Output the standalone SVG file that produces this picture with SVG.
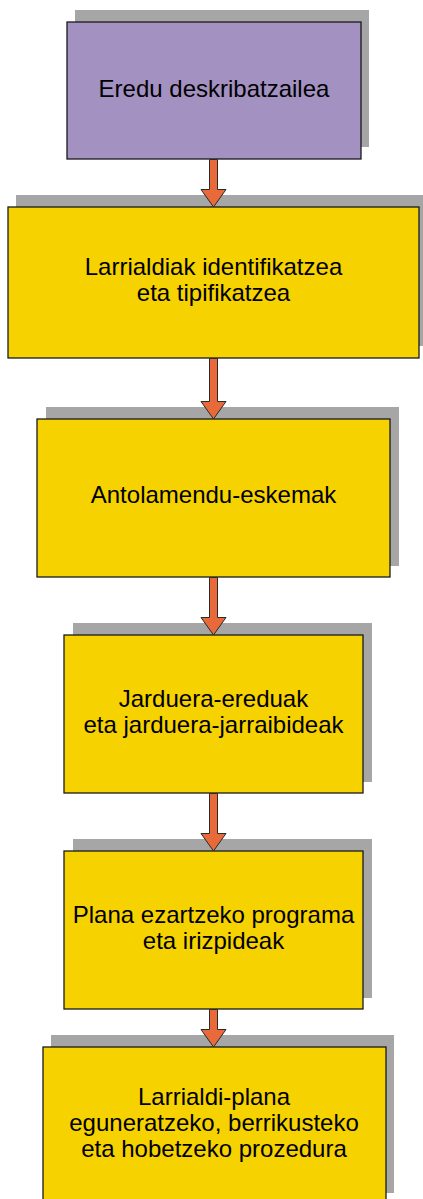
<svg xmlns="http://www.w3.org/2000/svg" width="423" height="1199" viewBox="0 0 423 1199">
<style>
.sh{fill:#A6A6A6}
.bx{stroke:#1a1a1a;stroke-width:1.3}
.p{fill:#A391C2}
.y{fill:#F5D200}
.t{font-family:"Liberation Sans",Arial,sans-serif;font-size:24px;fill:#000;text-anchor:middle}
.ar{fill:#E8693A;stroke:#2a2a2a;stroke-width:1;stroke-linejoin:miter}
</style>
<rect width="423" height="1199" fill="#fff"/>
<g id="n1">
<rect class="sh" x="75" y="10" width="294" height="137"/>
<rect class="bx p" x="67" y="22" width="294" height="137"/>
<text class="t" x="214" y="97">Eredu deskribatzailea</text>
</g>
<g id="n2">
<rect class="sh" x="16" y="195" width="411" height="151"/>
<rect class="bx y" x="8" y="207" width="411" height="151"/>
<text class="t" x="213.5" y="275">Larrialdiak identifikatzea</text>
<text class="t" x="213.5" y="301">eta tipifikatzea</text>
</g>
<g id="n3">
<rect class="sh" x="46" y="407" width="353" height="159"/>
<rect class="bx y" x="37" y="419" width="353" height="158"/>
<text class="t" x="213.5" y="503">Antolamendu-eskemak</text>
</g>
<g id="n4">
<rect class="sh" x="73" y="623" width="299" height="159"/>
<rect class="bx y" x="64" y="635" width="299" height="158"/>
<text class="t" x="213.5" y="707">Jarduera-ereduak</text>
<text class="t" x="213.5" y="733">eta jarduera-jarraibideak</text>
</g>
<g id="n5">
<rect class="sh" x="73" y="839" width="299" height="159"/>
<rect class="bx y" x="64" y="851" width="299" height="158"/>
<text class="t" x="213.5" y="923">Plana ezartzeko programa</text>
<text class="t" x="213.5" y="949">eta irizpideak</text>
</g>
<g id="n6">
<rect class="sh" x="51" y="1035" width="343" height="158"/>
<rect class="bx y" x="43" y="1047" width="343" height="160"/>
<text class="t" x="214" y="1105">Larrialdi-plana</text>
<text class="t" x="214" y="1131">eguneratzeko, berrikusteko</text>
<text class="t" x="214" y="1157">eta hobetzeko prozedura</text>
</g>
<g id="connectors">
<path class="ar" d="M209.5 159.5 H217.5 V189.5 H226 L213.5 207 L201 189.5 H209.5 Z"/>
<path class="ar" d="M209.5 358.5 H217.5 V401.5 H226 L213.5 419 L201 401.5 H209.5 Z"/>
<path class="ar" d="M209.5 577.5 H217.5 V617.5 H226 L213.5 635 L201 617.5 H209.5 Z"/>
<path class="ar" d="M209.5 793.5 H217.5 V833.5 H226 L213.5 851 L201 833.5 H209.5 Z"/>
<path class="ar" d="M209.5 1009.5 H217.5 V1029.5 H226 L213.5 1047 L201 1029.5 H209.5 Z"/>
</g>
</svg>
